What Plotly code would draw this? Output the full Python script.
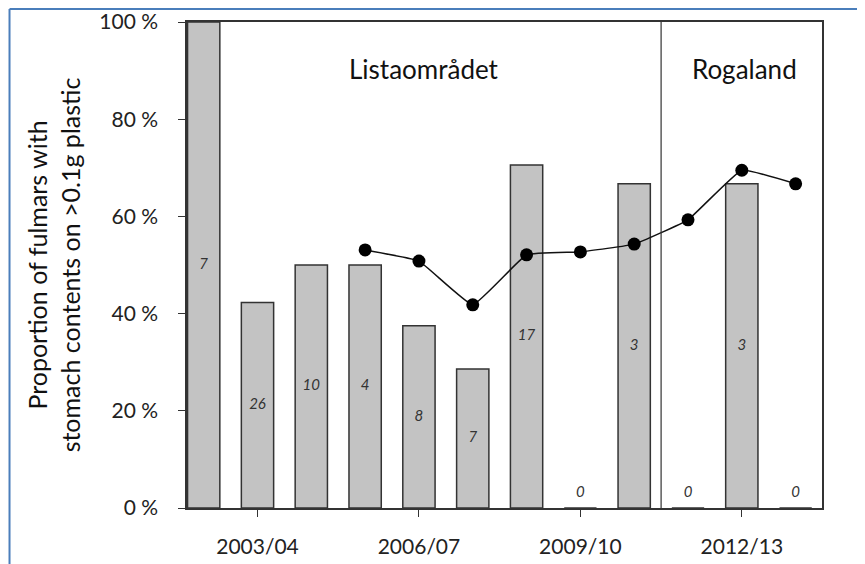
import plotly.graph_objects as go

seasons = ["2002/03", "2003/04", "2004/05", "2005/06", "2006/07", "2007/08",
           "2008/09", "2009/10", "2010/11", "2011/12", "2012/13", "2013/14"]
bar_pct = [100, 42.3, 50, 50, 37.5, 28.6, 70.6, 0, 66.7, 0, 66.7, 0]
sample_n = ["7", "26", "10", "4", "8", "7", "17", "0", "3", "0", "3", "0"]
trend_seasons = ["2005/06", "2006/07", "2007/08", "2008/09", "2009/10",
                 "2010/11", "2011/12", "2012/13", "2013/14"]
trend_pct = [53.1, 50.8, 41.8, 52.1, 52.7, 54.3, 59.3, 69.5, 66.7]
tick_seasons = ["2003/04", "2006/07", "2009/10", "2012/13"]
y_ticks = [0, 20, 40, 60, 80, 100]
region_names = ["Listaområdet", "Rogaland"]

FONT = "Lato"
label_y = [max(v / 2, 3.1) for v in bar_pct]

fig = go.Figure()
fig.add_trace(go.Bar(
    x=seasons, y=bar_pct, width=0.6,
    marker=dict(color="#c3c3c3", line=dict(color="#333333", width=1.5)),
    showlegend=False, hoverinfo="skip"))
fig.add_trace(go.Scatter(
    x=seasons, y=label_y, mode="text", text=sample_n,
    textfont=dict(family=FONT, size=15, color="#333333", style="italic"),
    showlegend=False, hoverinfo="skip"))
fig.add_trace(go.Scatter(
    x=trend_seasons, y=trend_pct, mode="lines+markers",
    line=dict(color="#111111", width=1.5, shape="spline", smoothing=0.3),
    marker=dict(color="#000000", size=13),
    showlegend=False))

fig.add_shape(type="line", xref="x", yref="paper", x0=8.5, x1=8.5, y0=0, y1=1,
              line=dict(color="#333333", width=1.2))

fig.add_annotation(x=4.1, y=90.3, text=region_names[0], showarrow=False,
                   font=dict(family=FONT, size=26, color="#111111"))
fig.add_annotation(x=10.05, y=90.3, text=region_names[1], showarrow=False,
                   font=dict(family=FONT, size=26, color="#111111"))

# blue frame lines (top and left)
fig.add_shape(type="line", xref="paper", yref="paper", x0=-0.2795, x1=1.1,
              y0=1.027, y1=1.027, line=dict(color="#4a7ebb", width=2))
fig.add_shape(type="line", xref="paper", yref="paper", x0=-0.2795, x1=-0.2795,
              y0=1.027, y1=-0.2, line=dict(color="#4a7ebb", width=2))

fig.update_layout(
    width=865, height=564,
    margin=dict(l=179, r=51, t=14, b=64),
    paper_bgcolor="white", plot_bgcolor="white",
    font=dict(family=FONT, color="#333333"),
    bargap=0.4,
    xaxis=dict(
        type="category", categoryorder="array", categoryarray=seasons,
        range=[-0.31, 11.49], tickvals=tick_seasons, ticktext=tick_seasons,
        ticks="outside", ticklen=7, tickcolor="#333333", ticklabelstandoff=12,
        showline=True, linecolor="#333333", linewidth=1.5, mirror=True,
        showgrid=False, automargin=False,
        tickfont=dict(size=21, family=FONT, color="#222222")),
    yaxis=dict(
        range=[0, 100], tickvals=y_ticks,
        ticktext=[f"{v} %" for v in y_ticks],
        ticks="outside", ticklen=7, tickcolor="#333333", ticklabelstandoff=16,
        showline=True, linecolor="#333333", linewidth=1.5, mirror=True,
        showgrid=False, zeroline=False, automargin=False,
        tickfont=dict(size=21, family=FONT, color="#222222"),
        title=dict(text="Proportion of fulmars with<br>stomach contents on >0.1g plastic",
                   font=dict(size=25, family=FONT, color="#111111"), standoff=12)),
)

fig.write_html("out.html")
